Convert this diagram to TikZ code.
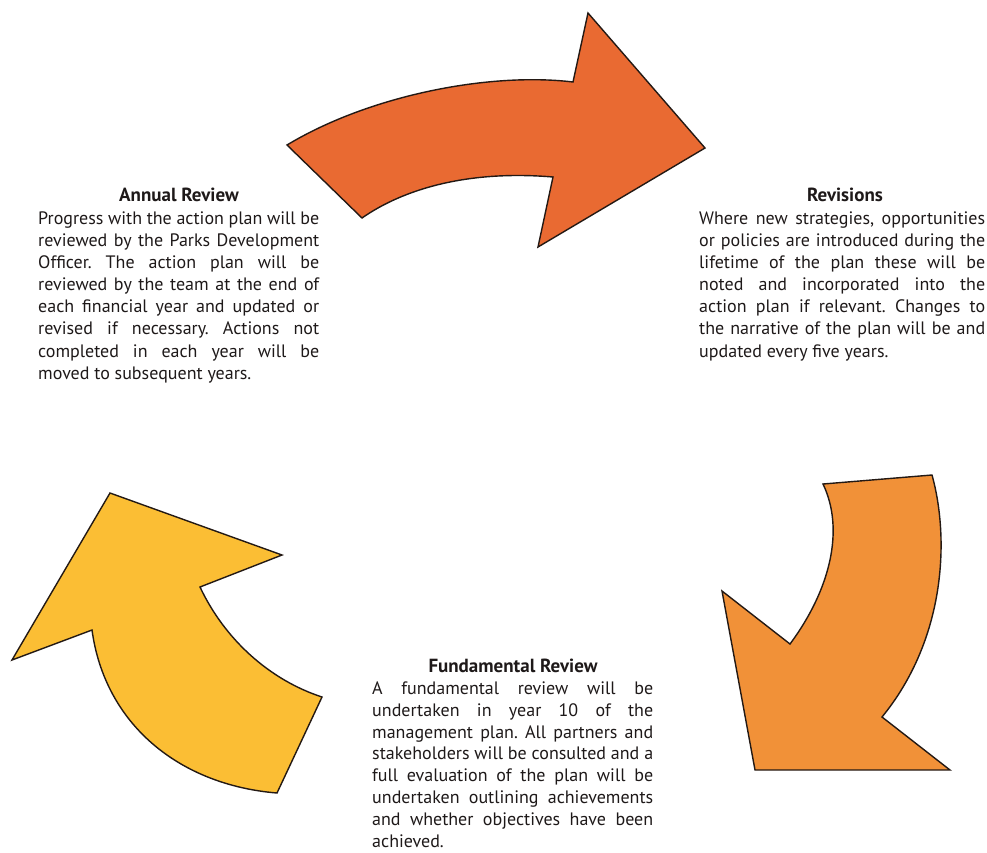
\documentclass[tikz,border=0pt]{standalone}
\usepackage{fontspec}
\setmainfont{PT Sans}
\definecolor{arrowA}{RGB}{233,106,50}
\definecolor{arrowB}{RGB}{241,145,56}
\definecolor{arrowC}{RGB}{251,190,52}
\definecolor{edgecol}{RGB}{35,25,20}
\definecolor{txtcol}{RGB}{30,25,25}
\newlength\colw
\setlength\colw{281pt}
\newcommand\jline[1]{\hbox to \colw{#1}}
\newcommand\lastline[1]{\hbox{#1}}
\newcommand\bodyfont{\fontsize{18}{22.1}\selectfont\frenchspacing
  \spaceskip=\fontdimen2\font plus 1fil minus 0.45\fontdimen2\font\relax}
\begin{document}
\begin{tikzpicture}[x=1pt,y=-1pt,
  arrowshape/.style={draw=edgecol, line width=1.4pt, line join=miter},
  heading/.style={font=\fontsize{19}{22}\selectfont\bfseries, text=txtcol, inner sep=0pt, anchor=center},
  body/.style={font=\bodyfont, text=txtcol, inner sep=0pt, anchor=north west}]
\useasboundingbox (0,0) rectangle (987,852);

% top arrow
\path[arrowshape, fill=arrowA] (287,145) -- (362,218)
  .. controls (405,188) and (470,170) .. (553,177) -- (538,247) -- (705,148)
  -- (588,13) -- (573,82) .. controls (490,72) and (370,95) .. cycle;

% right arrow
\path[arrowshape, fill=arrowB] (823,484) -- (932,475)
  .. controls (950,540) and (945,640) .. (882,717) -- (950,770) -- (755,770)
  -- (722,591) -- (790,644) .. controls (830,590) and (845,530) .. cycle;

% left arrow
\path[arrowshape, fill=arrowC] (110,493) -- (282,555) -- (200,587)
  .. controls (225,640) and (270,680) .. (322,697) -- (277,793)
  .. controls (180,785) and (105,725) .. (92,630) -- (12,660) -- cycle;

% Annual review
\node[heading] (annualhead) at (179,195) {Annual Review};
\node[body] (annualbody) at (38,211.5) {\vbox{%
\jline{Progress with the action plan will be}
\jline{reviewed by the Parks Development}
\jline{Officer. The action plan will be}
\jline{reviewed by the team at the end of}
\jline{each financial year and updated or}
\jline{revised if necessary. Actions not}
\jline{completed in each year will be}
\lastline{moved to subsequent years.}}};

% Revisions
\node[heading] (revhead) at (845,195) {Revisions};
\node[body] (revbody) at (699,211.5) {\vbox{\setlength\colw{286pt}%
\jline{Where new strategies, opportunities}
\jline{or policies are introduced during the}
\jline{lifetime of the plan these will be}
\jline{noted and incorporated into the}
\jline{action plan if relevant. Changes to}
\jline{the narrative of the plan will be and}
\lastline{updated every five years.}}};

% Fundamental review
\node[heading] (fundhead) at (513,666) {Fundamental Review};
\node[body] (fundbody) at (372,681.5) {\vbox{\baselineskip=21.8pt
\jline{A fundamental review will be}
\jline{undertaken in year 10 of the}
\jline{management plan. All partners and}
\jline{stakeholders will be consulted and a}
\jline{full evaluation of the plan will be}
\jline{undertaken outlining achievements}
\jline{and whether objectives have been}
\lastline{achieved.}}};
\end{tikzpicture}
\end{document}
